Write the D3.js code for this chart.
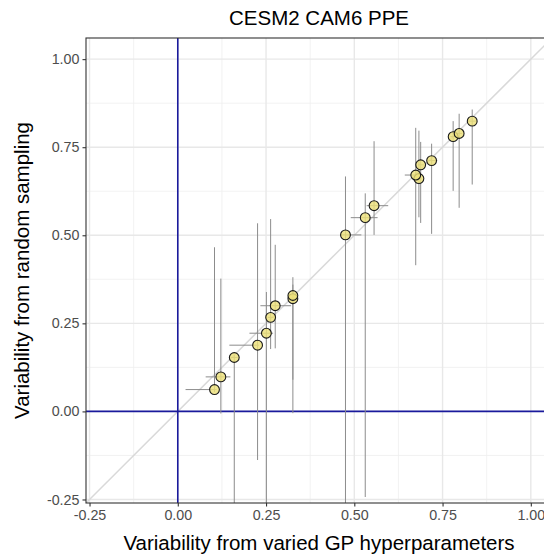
<!DOCTYPE html>
<html>
<head>
<meta charset="utf-8">
<script src="https://cdn.jsdelivr.net/npm/d3@7/dist/d3.min.js"></script>
<style>
  html, body { margin: 0; padding: 0; background: #fff; }
  svg { display: block; }
  text { font-family: "Liberation Sans", Arial, Helvetica, sans-serif; }
</style>
</head>
<body>
<script>
// ---- data ----
const chartTitle = "CESM2 CAM6 PPE";
const xTitle = "Variability from varied GP hyperparameters";
const yTitle = "Variability from random sampling";
const tickValues = [-0.25, 0, 0.25, 0.5, 0.75, 1.0];
const tickLabels = ["-0.25", "0.00", "0.25", "0.50", "0.75", "1.00"];
const minorTicks = [-0.125, 0.125, 0.375, 0.625, 0.875];

const xVal = [0.104, 0.122, 0.160, 0.226, 0.251, 0.263, 0.276, 0.326, 0.326, 0.475, 0.531, 0.556, 0.683, 0.674, 0.688, 0.719, 0.780, 0.797, 0.834];
const yVal = [0.062, 0.098, 0.153, 0.188, 0.222, 0.267, 0.300, 0.320, 0.329, 0.501, 0.550, 0.584, 0.661, 0.671, 0.700, 0.712, 0.780, 0.789, 0.824];
const xMin = [0.022, 0.079, 0.150, 0.146, 0.203, 0.255, 0.234, 0.318, 0.315, 0.460, 0.490, 0.535, 0.675, 0.643, 0.680, 0.710, 0.772, 0.790, 0.820];
const xMax = [0.110, 0.149, 0.170, 0.230, 0.270, 0.272, 0.321, 0.334, 0.335, 0.520, 0.566, 0.596, 0.690, 0.680, 0.697, 0.735, 0.790, 0.805, 0.845];
const yMin = [0.055, -0.006, -0.30, -0.138, -0.30, 0.177, 0.179, -0.005, 0.090, -0.30, -0.243, 0.501, 0.551, 0.415, 0.535, 0.504, 0.626, 0.578, 0.644];
const yMax = [0.466, 0.377, 0.160, 0.534, 0.339, 0.546, 0.473, 0.360, 0.381, 0.667, 0.619, 0.767, 0.797, 0.805, 0.765, 0.760, 0.824, 0.845, 0.857];

const domain = [-0.26, 1.06];

// ---- layout ----
const W = 544, H = 557;
const pL = 86, pT = 38, pR = 552, pB = 503;

const svg = d3.select("body").append("svg").attr("width", W).attr("height", H);

const x = d3.scaleLinear().domain(domain).range([pL, pR]);
const y = d3.scaleLinear().domain(domain).range([pB, pT]);

svg.append("rect").attr("x", pL).attr("y", pT).attr("width", pR - pL).attr("height", pB - pT).attr("fill", "#fff");

svg.append("defs").append("clipPath").attr("id", "clip")
  .append("rect").attr("x", pL).attr("y", pT).attr("width", pR - pL).attr("height", pB - pT);

const grid = svg.append("g");
grid.selectAll(".mx").data(minorTicks).enter().append("line")
  .attr("x1", d => x(d)).attr("x2", d => x(d)).attr("y1", pT).attr("y2", pB)
  .attr("stroke", "#EFEFEF").attr("stroke-width", 0.8);
grid.selectAll(".my").data(minorTicks).enter().append("line")
  .attr("y1", d => y(d)).attr("y2", d => y(d)).attr("x1", pL).attr("x2", pR)
  .attr("stroke", "#EFEFEF").attr("stroke-width", 0.8);
grid.selectAll(".Mx").data(tickValues).enter().append("line")
  .attr("x1", d => x(d)).attr("x2", d => x(d)).attr("y1", pT).attr("y2", pB)
  .attr("stroke", "#E8E8E8").attr("stroke-width", 1.4);
grid.selectAll(".My").data(tickValues).enter().append("line")
  .attr("y1", d => y(d)).attr("y2", d => y(d)).attr("x1", pL).attr("x2", pR)
  .attr("stroke", "#E8E8E8").attr("stroke-width", 1.4);

const plot = svg.append("g").attr("clip-path", "url(#clip)");

plot.append("line")
  .attr("x1", x(domain[0])).attr("y1", y(domain[0]))
  .attr("x2", x(domain[1])).attr("y2", y(domain[1]))
  .attr("stroke", "#D9D9D9").attr("stroke-width", 1.5);

plot.append("line").attr("x1", x(0)).attr("x2", x(0)).attr("y1", pT).attr("y2", pB)
  .attr("stroke", "#1a1a9c").attr("stroke-width", 1.6);
plot.append("line").attr("y1", y(0)).attr("y2", y(0)).attr("x1", pL).attr("x2", pR)
  .attr("stroke", "#1a1a9c").attr("stroke-width", 1.6);

const idx = d3.range(xVal.length);

plot.selectAll(".ev").data(idx).enter().append("line")
  .attr("x1", i => x(xVal[i])).attr("x2", i => x(xVal[i]))
  .attr("y1", i => y(yMin[i])).attr("y2", i => y(yMax[i]))
  .attr("stroke", "#8c8c8c").attr("stroke-width", 1);
plot.selectAll(".eh").data(idx).enter().append("line")
  .attr("y1", i => y(yVal[i])).attr("y2", i => y(yVal[i]))
  .attr("x1", i => x(xMin[i])).attr("x2", i => x(xMax[i]))
  .attr("stroke", "#8c8c8c").attr("stroke-width", 1);

plot.selectAll(".pt").data(idx).enter().append("circle")
  .attr("cx", i => x(xVal[i])).attr("cy", i => y(yVal[i]))
  .attr("r", 4.9)
  .attr("fill", "#EDE07A").attr("fill-opacity", 0.82)
  .attr("stroke", "#1a1a1a").attr("stroke-width", 1.1);

svg.append("rect").attr("x", pL).attr("y", pT).attr("width", pR - pL).attr("height", pB - pT)
  .attr("fill", "none").attr("stroke", "#333333").attr("stroke-width", 1.1);

const xAxis = d3.axisBottom(x).tickValues(tickValues).tickFormat((d, i) => tickLabels[i]).tickSize(3.5).tickPadding(3.5);
const yAxis = d3.axisLeft(y).tickValues(tickValues).tickFormat((d, i) => tickLabels[i]).tickSize(3.5).tickPadding(3);

const gx = svg.append("g").attr("transform", `translate(0,${pB})`).call(xAxis);
const gy = svg.append("g").attr("transform", `translate(${pL},0)`).call(yAxis);
[gx, gy].forEach(g => {
  g.select(".domain").remove();
  g.selectAll(".tick line").attr("stroke", "#333333").attr("stroke-width", 1.1);
  g.selectAll(".tick text").attr("fill", "#4D4D4D").style("font-size", "14.3px")
    .style("font-family", "'Liberation Sans', Arial, sans-serif");
});

svg.append("text").attr("x", (pL + pR) / 2).attr("y", 25)
  .attr("text-anchor", "middle").style("font-size", "20.5px").attr("fill", "#000").text(chartTitle);
svg.append("text").attr("x", (pL + pR) / 2).attr("y", 550)
  .attr("text-anchor", "middle").style("font-size", "20.5px").attr("fill", "#000").text(xTitle);
svg.append("text").attr("transform", `translate(29,${(pT + pB) / 2}) rotate(-90)`)
  .attr("text-anchor", "middle").style("font-size", "20.5px").attr("fill", "#000").text(yTitle);
</script>
</body>
</html>
